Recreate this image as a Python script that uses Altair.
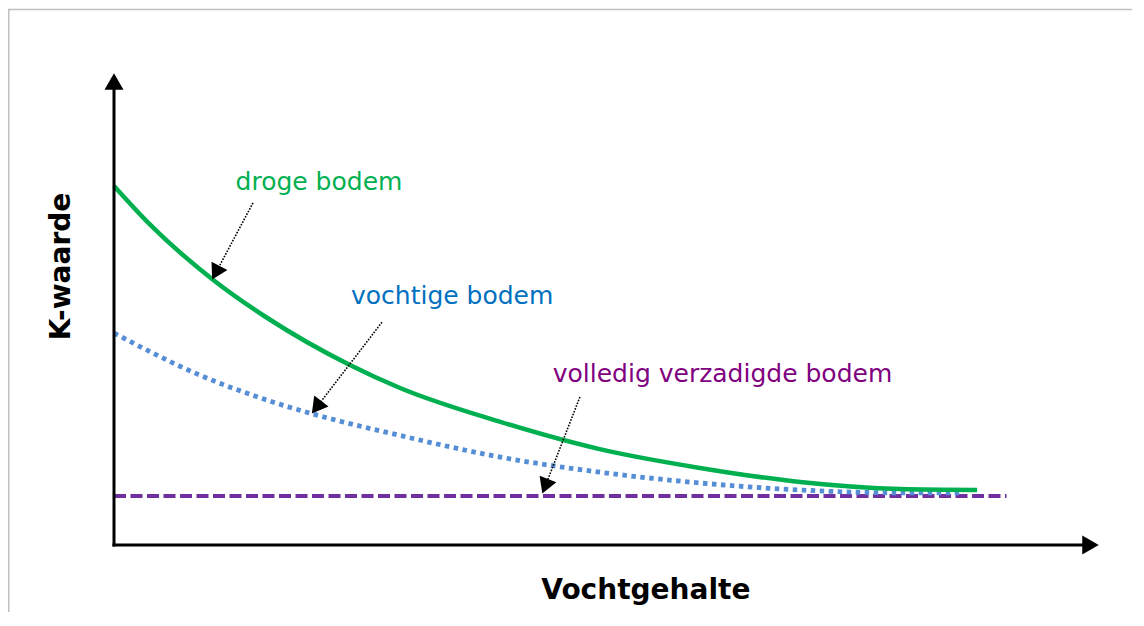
import math
import altair as alt
import pandas as pd

# ---- data (conceptual units: moisture 0-10, K-value 0-10) ----
green_x = [0, 0.37, 1.01, 1.56, 2.40, 2.91, 3.93, 4.94, 5.96, 6.98, 8.00, 8.78]
green_y = [7.64, 6.81, 5.64, 4.83, 3.83, 3.34, 2.62, 2.04, 1.64, 1.34, 1.19, 1.17]
blue_x = [0, 0.845, 1.516, 2.02, 2.89, 3.93, 4.94, 5.96, 6.98, 8.00, 8.61]
blue_y = [4.51, 3.64, 3.11, 2.79, 2.34, 1.87, 1.55, 1.32, 1.17, 1.11, 1.11]
purple_x = [0, 9.08]
purple_y = [1.04, 1.04]

labels = ["droge bodem", "vochtige bodem", "volledig verzadigde bodem"]
label_colors = ["#00B050", "#0070C0", "#800080"]
label_x = [2.085, 3.44, 6.19]
label_y = [7.553, 5.128, 3.468]

# annotation arrows: start -> tip
arrow_sx = [1.414, 2.726, 4.74]
arrow_sy = [7.28, 4.74, 3.15]
arrow_tx = [1.007, 2.024, 4.364]
arrow_ty = [5.68, 2.83, 1.13]

# axes (with arrow tips)
axis_sx = [0, 0]
axis_sy = [0, 0]
axis_tx = [0, 10]
axis_ty = [10, 0]

# ---- layout ----
W, H = 1124, 604
ORIGIN_CX, ORIGIN_CY = 106, 537     # origin in chart pixels
PX_X, PX_Y = 98.3, 47.0             # pixels per unit
x_dom = [-ORIGIN_CX / PX_X, (W - ORIGIN_CX) / PX_X]
y_dom = [(ORIGIN_CY - H) / PX_Y, ORIGIN_CY / PX_Y]
xs = alt.Scale(domain=x_dom, nice=False, zero=False)
ys = alt.Scale(domain=y_dom, nice=False, zero=False)
FONT = "DejaVu Sans"


def heads(sx, sy, tx, ty, width, back):
    rows = []
    for a, b, c, d in zip(sx, sy, tx, ty):
        dx = (c - a) * PX_X
        dy = -(d - b) * PX_Y
        L = math.hypot(dx, dy)
        ux, uy = dx / L, dy / L
        cx = c - back * ux / PX_X
        cy = d + back * uy / PX_Y
        ang = math.degrees(math.atan2(ux, -uy)) % 360
        rows.append({"sx": a, "sy": b, "cx": cx, "cy": cy, "ang": ang})
    return pd.DataFrame(rows)


def X(f):
    return alt.X(f, type="quantitative", scale=xs, axis=None)


def Y(f):
    return alt.Y(f, type="quantitative", scale=ys, axis=None)


green = alt.Chart(pd.DataFrame({"x": green_x, "y": green_y})).mark_line(
    color="#00B050", strokeWidth=4.5, interpolate="monotone"
).encode(x=X("x"), y=Y("y"))

blue = alt.Chart(pd.DataFrame({"x": blue_x, "y": blue_y})).mark_line(
    color="#558ED5", strokeWidth=4.8, strokeDash=[4.5, 4.5], interpolate="monotone"
).encode(x=X("x"), y=Y("y"))

purple = alt.Chart(pd.DataFrame({"x": purple_x, "y": purple_y})).mark_line(
    color="#7030A0", strokeWidth=4, strokeDash=[12, 4.5]
).encode(x=X("x"), y=Y("y"))

AX_HEAD = 19
ax_df = heads(axis_sx, axis_sy, axis_tx, axis_ty, AX_HEAD, 6.5)
axis_lines = alt.Chart(ax_df).mark_rule(
    color="black", strokeWidth=3, strokeCap="square"
).encode(x=X("sx"), y=Y("sy"), x2="cx", y2="cy")
axis_heads = alt.Chart(ax_df).mark_point(
    shape="triangle-up", filled=True, color="black", size=AX_HEAD ** 2, opacity=1, strokeWidth=0
).encode(x=X("cx"), y=Y("cy"), angle=alt.Angle("ang:Q", scale=None))

AR_HEAD = 18
ar_df = heads(arrow_sx, arrow_sy, arrow_tx, arrow_ty, AR_HEAD, 6)
arrow_lines = alt.Chart(ar_df).mark_rule(
    color="black", strokeWidth=1.6, strokeDash=[1.6, 1.4]
).encode(x=X("sx"), y=Y("sy"), x2="cx", y2="cy")
arrow_heads = alt.Chart(ar_df).mark_point(
    shape="triangle-up", filled=True, color="black", size=AR_HEAD ** 2, opacity=1, strokeWidth=0
).encode(x=X("cx"), y=Y("cy"), angle=alt.Angle("ang:Q", scale=None))

lab_df = pd.DataFrame({"t": labels, "c": label_colors, "x": label_x, "y": label_y})
label_text = alt.Chart(lab_df).mark_text(
    font=FONT, fontSize=25, align="center", baseline="alphabetic"
).encode(x=X("x"), y=Y("y"), text="t:N", color=alt.Color("c:N", scale=None))

xtitle = alt.Chart(pd.DataFrame({"t": ["Vochtgehalte"], "x": [5.41], "y": [-1.149]})).mark_text(
    font=FONT, fontSize=28, fontWeight="bold", align="center", baseline="alphabetic", color="black"
).encode(x=X("x"), y=Y("y"), text="t:N")

ytitle = alt.Chart(pd.DataFrame({"t": ["K-waarde"], "x": [-0.448], "y": [5.926]})).mark_text(
    font=FONT, fontSize=28, fontWeight="bold", align="center", baseline="alphabetic",
    color="black", angle=270
).encode(x=X("x"), y=Y("y"), text="t:N")

border_top = alt.Chart(pd.DataFrame({"k": [0]})).mark_rule(color="#BFBFBF", strokeWidth=1.5).encode(
    x=alt.value(0), x2=alt.value(W), y=alt.value(1.5)
)
border_left = alt.Chart(pd.DataFrame({"k": [0]})).mark_rule(color="#BFBFBF", strokeWidth=1.5).encode(
    x=alt.value(0.75), y=alt.value(1.5), y2=alt.value(H)
)

chart = alt.layer(
    border_top, border_left, purple, blue, green, arrow_lines, arrow_heads,
    axis_lines, axis_heads, label_text, xtitle, ytitle
).properties(
    width=W, height=H, padding=0, background="white",
    autosize=alt.AutoSizeParams(type="none")
).configure_view(stroke=None)

chart.save("out.html", embed_options={"renderer": "svg", "actions": False})
